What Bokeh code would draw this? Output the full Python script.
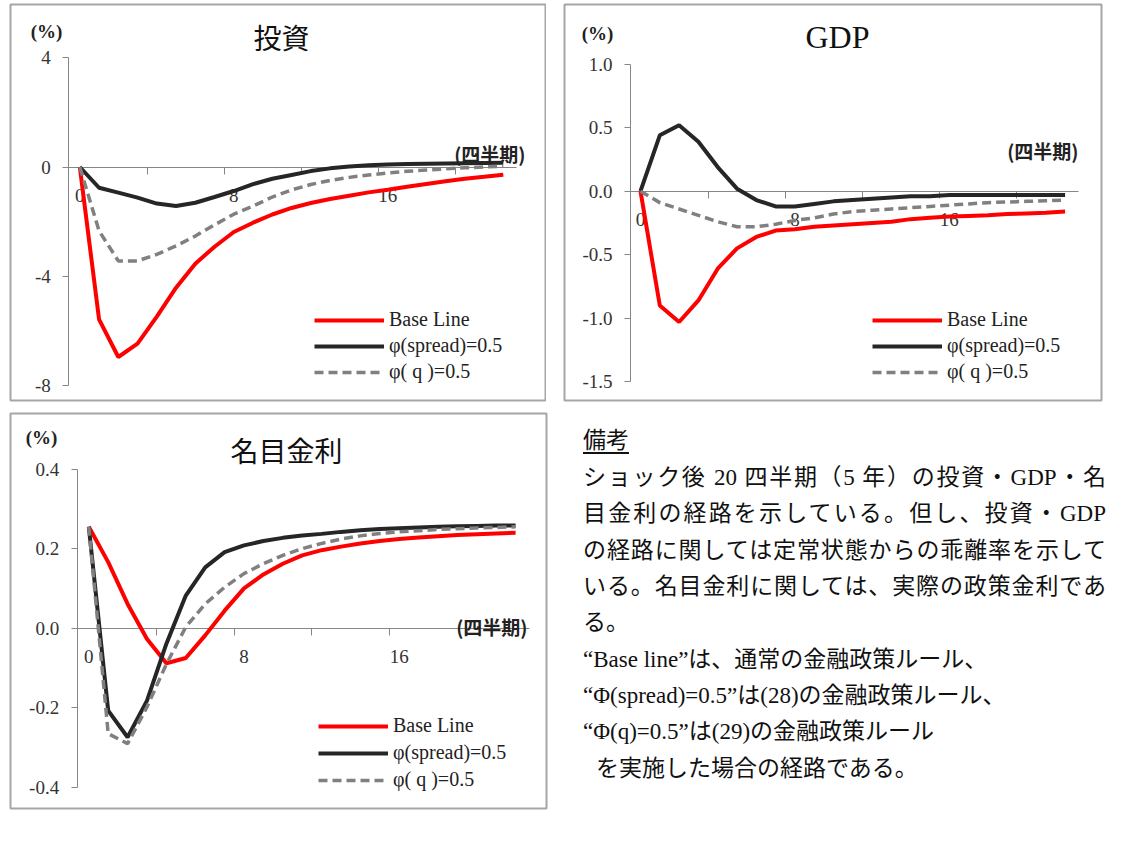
from bokeh.plotting import figure
from bokeh.models import (LinearAxis, FixedTicker, NumeralTickFormatter, Range1d,
                          Label, Legend, LegendItem, Div)
from bokeh.layouts import row, column
from bokeh.embed import file_html
from bokeh.resources import INLINE

# ---------------- data ----------------
quarters = list(range(23))
x_tick_labels = [0, 8, 16]
x_minor_ticks = [3.5, 7.5, 11.5, 15.5, 19.5]
series_names = ["Base Line", "φ(spread)=0.5", "φ( q )=0.5"]

inv_base = [0, -5.58, -6.96, -6.47, -5.48, -4.42, -3.54, -2.92, -2.38, -2.04, -1.74,
            -1.50, -1.32, -1.17, -1.05, -0.93, -0.83, -0.72, -0.62, -0.52, -0.43, -0.36, -0.28]
inv_spread = [0, -0.76, -0.94, -1.12, -1.34, -1.43, -1.31, -1.10, -0.88, -0.63, -0.43,
              -0.29, -0.15, -0.05, 0.02, 0.06, 0.09, 0.11, 0.12, 0.13, 0.14, 0.15, 0.16]
inv_q = [0, -2.34, -3.44, -3.44, -3.20, -2.89, -2.53, -2.12, -1.73, -1.43, -1.10,
         -0.84, -0.64, -0.49, -0.38, -0.29, -0.22, -0.16, -0.11, -0.07, -0.03, 0.0, 0.03]
inv_yticks = [-8, -4, 0, 4]

gdp_base = [0, -0.90, -1.03, -0.86, -0.61, -0.45, -0.36, -0.31, -0.30, -0.28, -0.27,
            -0.26, -0.25, -0.24, -0.22, -0.21, -0.20, -0.195, -0.19, -0.18, -0.175, -0.17, -0.16]
gdp_spread = [0, 0.44, 0.52, 0.39, 0.19, 0.02, -0.07, -0.12, -0.12, -0.10, -0.08,
              -0.07, -0.06, -0.05, -0.04, -0.04, -0.03, -0.03, -0.03, -0.03, -0.03, -0.03, -0.03]
gdp_q = [0, -0.09, -0.14, -0.19, -0.24, -0.28, -0.28, -0.26, -0.23, -0.21, -0.18,
         -0.16, -0.15, -0.14, -0.13, -0.12, -0.11, -0.10, -0.09, -0.085, -0.08, -0.075, -0.07]
gdp_yticks = [-1.5, -1.0, -0.5, 0.0, 0.5, 1.0]

rate_base = [0.255, 0.166, 0.061, -0.027, -0.088, -0.075, -0.018, 0.044, 0.100, 0.135, 0.162,
             0.183, 0.196, 0.205, 0.213, 0.219, 0.224, 0.228, 0.231, 0.234, 0.236, 0.238, 0.240]
rate_spread = [0.255, -0.207, -0.274, -0.182, -0.039, 0.082, 0.153, 0.191, 0.208, 0.219, 0.227,
               0.233, 0.237, 0.242, 0.246, 0.249, 0.251, 0.253, 0.255, 0.256, 0.257, 0.258, 0.258]
rate_q = [0.255, -0.265, -0.290, -0.198, -0.090, 0.003, 0.061, 0.103, 0.137, 0.162, 0.183,
          0.200, 0.213, 0.224, 0.232, 0.238, 0.242, 0.245, 0.248, 0.250, 0.252, 0.253, 0.255]
rate_yticks = [-0.4, -0.2, 0.0, 0.2, 0.4]

note_title = "備考"
note_lines = [
    "ショック後 20 四半期（5 年）の投資・GDP・名",
    "目金利の経路を示している。但し、投資・GDP",
    "の経路に関しては定常状態からの乖離率を示して",
    "いる。名目金利に関しては、実際の政策金利であ",
    "る。",
    "“Base line”は、通常の金融政策ルール、",
    "“Φ(spread)=0.5”は(28)の金融政策ルール、",
    "“Φ(q)=0.5”は(29)の金融政策ルール",
    "を実施した場合の経路である。",
]

# ---------------- style ----------------
RED, BLACK, GREY = "#FF0000", "#262626", "#808080"
AXIS = "#868686"
BORDER = "#A6A6A6"
SERIF = "Liberation Serif"
JP = "Noto Sans CJK JP"


def make_panel(series, yticks, yfmt, title, title_font, title_size,
               width, height, mb, box, q0_px, q_px, zero_px, unit_px,
               yaxis_q, pct_pos, title_pos, unit_pos, legend_loc, legend_spacing):
    left, top, right, bottom = box
    x_range = Range1d((left - q0_px) / q_px, (right - q0_px) / q_px)
    y_range = Range1d((zero_px - bottom) / unit_px, (zero_px - top) / unit_px)
    p = figure(width=width, height=height, x_range=x_range, y_range=y_range,
               x_axis_type=None, y_axis_type=None, toolbar_location=None,
               output_backend="svg",
               min_border_left=mb[0], min_border_top=mb[1],
               min_border_right=mb[2], min_border_bottom=mb[3])
    p.outline_line_color = BORDER
    p.outline_line_width = 2
    p.background_fill_color = "white"
    p.border_fill_color = "white"

    yaxis = LinearAxis(fixed_location=yaxis_q,
                       ticker=FixedTicker(ticks=yticks),
                       formatter=NumeralTickFormatter(format=yfmt),
                       bounds=(min(yticks), max(yticks)),
                       axis_line_color=AXIS, axis_line_width=1,
                       major_tick_line_color=AXIS, major_tick_out=6, major_tick_in=0,
                       minor_tick_line_color=None,
                       major_label_standoff=12,
                       major_label_text_font=SERIF,
                       major_label_text_font_size="19px",
                       major_label_text_color="#333333")
    yaxis.level = "underlay"
    p.add_layout(yaxis, "left")

    xaxis = LinearAxis(fixed_location=0,
                       ticker=FixedTicker(ticks=x_tick_labels, minor_ticks=x_minor_ticks),
                       bounds=(yaxis_q, 22.7),
                       axis_line_color=AXIS, axis_line_width=1,
                       major_tick_line_color=None, major_tick_out=0, major_tick_in=0,
                       minor_tick_line_color=AXIS, minor_tick_out=7, minor_tick_in=0,
                       major_label_standoff=15,
                       major_label_text_font=SERIF,
                       major_label_text_font_size="19px",
                       major_label_text_color="#333333")
    xaxis.level = "underlay"
    p.add_layout(xaxis, "below")

    base, spread, qq = series
    r1 = p.line(quarters, base, line_color=RED, line_width=4)
    r2 = p.line(quarters, spread, line_color=BLACK, line_width=4)
    r3 = p.line(quarters, qq, line_color=GREY, line_width=3.5, line_dash="9 5")

    fl, fb = left, bottom
    p.add_layout(Label(x=pct_pos[0] - fl, y=fb - pct_pos[1], x_units="screen", y_units="screen",
                       text="(%)", text_font=SERIF, text_font_style="bold",
                       text_font_size="19px", text_align="center", text_baseline="middle",
                       text_color="#222222"))
    p.add_layout(Label(x=title_pos[0] - fl, y=fb - title_pos[1], x_units="screen", y_units="screen",
                       text=title, text_font=title_font,
                       text_font_size=title_size, text_align="center", text_baseline="middle",
                       text_color="#111111"))
    p.add_layout(Label(x=unit_pos[0] - fl, y=fb - unit_pos[1], x_units="screen", y_units="screen",
                       text="(四半期)", text_font=JP, text_font_style="bold",
                       text_font_size="19px", text_align="right", text_baseline="middle",
                       text_color="#222222"))

    legend = Legend(items=[LegendItem(label=series_names[0], renderers=[r1]),
                           LegendItem(label=series_names[1], renderers=[r2]),
                           LegendItem(label=series_names[2], renderers=[r3])],
                    location=legend_loc, orientation="vertical",
                    glyph_width=70, glyph_height=20, label_height=20,
                    spacing=legend_spacing, padding=0, margin=0, label_standoff=5,
                    background_fill_alpha=0, border_line_color=None,
                    label_text_font=SERIF, label_text_font_size="20px",
                    label_text_color="#222222")
    p.add_layout(legend)
    return p


p1 = make_panel((inv_base, inv_spread, inv_q), inv_yticks, "0", "投資", JP, "28px",
                546, 412, (10, 4, 1, 12), (10, 4, 545, 400),
                79.3, 19.25, 166.5, 27.3, -0.57,
                (46, 31), (281, 36), (525, 153), (304, 17), 3)

p2 = make_panel((gdp_base, gdp_spread, gdp_q), gdp_yticks, "0.0", "GDP", SERIF, "32px",
                557, 412, (18, 4, 2, 12), (564, 4, 1101, 400),
                640.0, 19.3, 190.7, 127.0, -0.52,
                (597, 33), (837, 36), (1078, 150), (308, 17), 3)

p3 = make_panel((rate_base, rate_spread, rate_q), rate_yticks, "0.0", "名目金利", JP, "28px",
                548, 398, (10, 1, 2, 2), (10, 413, 546, 808),
                88.3, 19.4, 627.7, 398.0, -0.6,
                (41, 437), (286, 449), (527, 626), (308, 17), 4)

# ---------------- note text ----------------
line_tops = [46, 82, 119, 155, 191, 228, 264, 300, 337]
justified = [True, True, True, True, False, False, False, False, False]
indents = [0, 0, 0, 0, 0, 0, 0, 0, 13]
font_css = "font-family:'Liberation Serif','Noto Sans CJK JP',serif;font-size:23px;color:#111;"
parts = ['<div style="position:relative;width:560px;height:398px;%s">' % font_css]
parts.append('<div style="position:absolute;left:30px;top:9px;line-height:30px;'
             'text-decoration:underline;text-underline-offset:4px;">%s</div>' % note_title)
for txt, tp, j, ind in zip(note_lines, line_tops, justified, indents):
    align = "text-align:justify;text-align-last:justify;" if j else "text-align:left;"
    parts.append('<div style="position:absolute;left:%dpx;top:%dpx;width:%dpx;line-height:30px;'
                 'white-space:nowrap;%s">%s</div>' % (30 + ind, tp, 523 - ind, align, txt))
parts.append('</div>')
note = Div(text="".join(parts), width=560, height=398)

layout = column(row(p1, p2), row(p3, note))

with open("out.html", "w") as f:
    f.write(file_html(layout, INLINE))
